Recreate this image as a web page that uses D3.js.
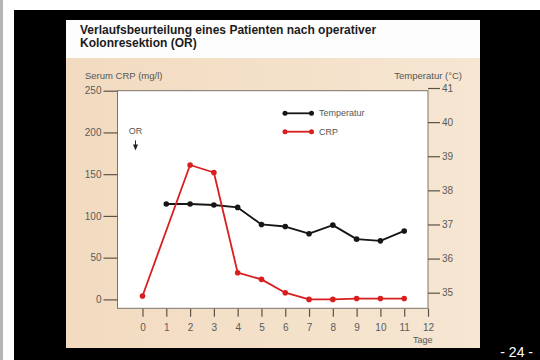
<!DOCTYPE html>
<html>
<head>
<meta charset="utf-8">
<script src="https://cdn.jsdelivr.net/npm/d3@7"></script>
<style>
    body { margin: 0; background: #fff; }
    text { font-family: Arial, "Liberation Sans", Helvetica, sans-serif; }
</style>
</head>
<body>
<div id="chart"></div>
<script>
// Data
const titleLines = ["Verlaufsbeurteilung eines Patienten nach operativer", "Kolonresektion (OR)"];
const dayTicks = [0, 1, 2, 3, 4, 5, 6, 7, 8, 9, 10, 11, 12];
const crpTicks = [0, 50, 100, 150, 200, 250];
const tempTicks = [35, 36, 37, 38, 39, 40, 41];

const tempDays = [1, 2, 3, 4, 5, 6, 7, 8, 9, 10, 11];
const tempValues = [37.6, 37.6, 37.57, 37.5, 37.0, 36.94, 36.73, 36.98, 36.57, 36.52, 36.81];

const crpDays = [0, 2, 3, 4, 5, 6, 7, 8, 9, 10, 11];
const crpValues = [4, 161, 152, 32, 24, 8, 0, 0, 1, 1, 1];

const legendLabels = ["Temperatur", "CRP"];
const seriesColors = ["#161616", "#d91e1e"];

class CrpTempChart {
    config; svg; chart;
    xScale; yCrp; yTemp;

    constructor(config) {
        this.config = config;
        this.configureVis();
    }

    configureVis() {
        const vis = this;
        const m = vis.config.margin;

        vis.width = vis.config.plotRight - m.left;
        vis.height = vis.config.plotBottom - m.top;

        vis.svg = d3.select(vis.config.parentElement).append('svg')
            .attr('width', vis.config.containerWidth)
            .attr('height', vis.config.containerHeight);

        // photo frame: white page, black screen, slide
        vis.svg.append('rect').attr('x', 0).attr('y', 0).attr('width', 3).attr('height', 360).attr('fill', '#b5b5b5');
        vis.svg.append('rect').attr('x', 14).attr('y', 10).attr('width', 526).attr('height', 350).attr('fill', '#000');
        vis.svg.append('rect').attr('x', 66).attr('y', 20).attr('width', 414).attr('height', 328).attr('fill', '#fdfdfd');

        const grad = vis.svg.append('defs').append('linearGradient').attr('id', 'beige');
        grad.append('stop').attr('offset', '0%').attr('stop-color', '#f2dbc0');
        grad.append('stop').attr('offset', '100%').attr('stop-color', '#f6e6d2');
        vis.svg.append('rect').attr('x', 66).attr('y', 58).attr('width', 414).attr('height', 290).attr('fill', 'url(#beige)');

        vis.svg.selectAll('.title')
            .data(titleLines)
            .join('text')
            .attr('class', 'title')
            .attr('x', 80)
            .attr('y', (d, i) => 34 + i * 13)
            .style('font-size', '12px')
            .style('font-weight', 'bold')
            .attr('fill', '#1c1c1c')
            .text(d => d);

        vis.svg.append('text')
            .attr('x', 533).attr('y', 357)
            .style('text-anchor', 'end')
            .style('font-size', '14px')
            .attr('fill', '#fff')
            .text('- 24 -');

        // Scales (day 0 sits a bit inside the plot box, day 12 on its right edge)
        vis.xScale = d3.scaleLinear().domain([0, 12]).range([vis.config.dayZero - m.left, vis.width]);
        vis.yCrp = d3.scaleLinear().domain([0, 250]).range([vis.config.crpZero, 0]);
        vis.yTemp = d3.scaleLinear().domain([35, 41]).range([vis.config.tempZero, -2.7]);

        vis.chart = vis.svg.append('g')
            .attr('transform', `translate(${m.left},${m.top})`);

        // white plot box
        vis.chart.append('rect')
            .attr('x', 0).attr('y', 0)
            .attr('width', vis.width).attr('height', vis.height)
            .attr('fill', '#fff')
            .attr('stroke', '#7d7468')
            .attr('stroke-width', 1);

        // Axes
        vis.xAxis = d3.axisBottom(vis.xScale).tickValues(dayTicks).tickSize(8).tickPadding(7);
        vis.yAxisLeft = d3.axisLeft(vis.yCrp).tickValues(crpTicks).tickSize(14).tickPadding(2);
        vis.yAxisRight = d3.axisRight(vis.yTemp).tickValues(tempTicks).tickFormat(d3.format('d'))
            .tickSize(12).tickPadding(2);

        vis.xAxisG = vis.chart.append('g').attr('class', 'axis')
            .attr('transform', `translate(0,${vis.height + 0.5})`);
        vis.yAxisLeftG = vis.chart.append('g').attr('class', 'axis');
        vis.yAxisRightG = vis.chart.append('g').attr('class', 'axis')
            .attr('transform', `translate(${vis.width},0)`);

        // Axis titles
        vis.svg.append('text')
            .attr('x', 85).attr('y', 79)
            .style('font-size', '9.5px').attr('fill', '#555')
            .text('Serum CRP (mg/l)');
        vis.svg.append('text')
            .attr('x', 462).attr('y', 79)
            .style('text-anchor', 'end')
            .style('font-size', '9.5px').attr('fill', '#555')
            .text('Temperatur (°C)');
        vis.chart.append('text')
            .attr('x', vis.xScale(12) - 15).attr('y', vis.height + 35)
            .style('font-size', '9px').attr('fill', '#555')
            .text('Tage');

        // OR marker
        const orX = vis.xScale(0) - 7;
        vis.chart.append('text')
            .attr('x', orX).attr('y', vis.yCrp(200) + 2)
            .style('text-anchor', 'middle')
            .style('font-size', '9px').attr('fill', '#555')
            .text('OR');
        vis.chart.append('line')
            .attr('x1', orX).attr('x2', orX)
            .attr('y1', vis.yCrp(200) + 8).attr('y2', vis.yCrp(200) + 13)
            .attr('stroke', '#222').attr('stroke-width', 1);
        vis.chart.append('path')
            .attr('d', `M${orX - 2.5},${vis.yCrp(200) + 12}L${orX + 2.5},${vis.yCrp(200) + 12}L${orX},${vis.yCrp(200) + 18}Z`)
            .attr('fill', '#222');

        vis.renderVis();
    }

    renderVis() {
        const vis = this;

        vis.xAxisG.call(vis.xAxis);
        vis.yAxisLeftG.call(vis.yAxisLeft);
        vis.yAxisRightG.call(vis.yAxisRight);

        vis.chart.selectAll('.axis .domain').remove();
        vis.chart.selectAll('.axis line').attr('stroke', '#5a5249').attr('stroke-width', 1.2);
        vis.chart.selectAll('.axis text')
            .style('font-size', '10px')
            .attr('fill', '#5a5a5a');

        const series = [
            { label: legendLabels[0], color: seriesColors[0],
              points: tempDays.map((d, i) => ({ x: vis.xScale(d), y: vis.yTemp(tempValues[i]) })) },
            { label: legendLabels[1], color: seriesColors[1],
              points: crpDays.map((d, i) => ({ x: vis.xScale(d), y: vis.yCrp(crpValues[i]) })) }
        ];

        const line = d3.line().x(p => p.x).y(p => p.y);

        vis.chart.selectAll('.series-line')
            .data(series)
            .join('path')
            .attr('class', 'series-line')
            .attr('d', s => line(s.points))
            .attr('fill', 'none')
            .attr('stroke', s => s.color)
            .attr('stroke-width', 1.8)
            .attr('stroke-linejoin', 'round');

        series.forEach((s, k) => {
            vis.chart.selectAll('.dot-' + k)
                .data(s.points)
                .join('circle')
                .attr('class', 'dot-' + k)
                .attr('cx', p => p.x)
                .attr('cy', p => p.y)
                .attr('r', 2.8)
                .attr('fill', s.color);
        });

        // Legend
        const legend = vis.chart.selectAll('.legend')
            .data(series)
            .join('g')
            .attr('class', 'legend')
            .attr('transform', (d, i) => `translate(${285 - vis.config.margin.left},${113.3 - vis.config.margin.top + i * 18.4})`);
        legend.append('line')
            .attr('x1', 0).attr('x2', 26.5)
            .attr('stroke', d => d.color).attr('stroke-width', 1.8);
        legend.selectAll('circle')
            .data(d => [0, 26.5].map(x => ({ x, color: d.color })))
            .join('circle')
            .attr('cx', d => d.x).attr('r', 2.5)
            .attr('fill', d => d.color);
        legend.append('text')
            .attr('x', 34).attr('dy', '0.35em')
            .style('font-size', '9px').attr('fill', '#555')
            .text(d => d.label);
    }
}

const chart = new CrpTempChart({
    parentElement: '#chart',
    containerWidth: 540,
    containerHeight: 360,
    margin: { left: 117.5, top: 90.7 },
    plotRight: 428,
    plotBottom: 308.3,
    dayZero: 142.5,
    crpZero: 299.4 - 90.7,
    tempZero: 292.7 - 90.7
});
</script>
</body>
</html>
